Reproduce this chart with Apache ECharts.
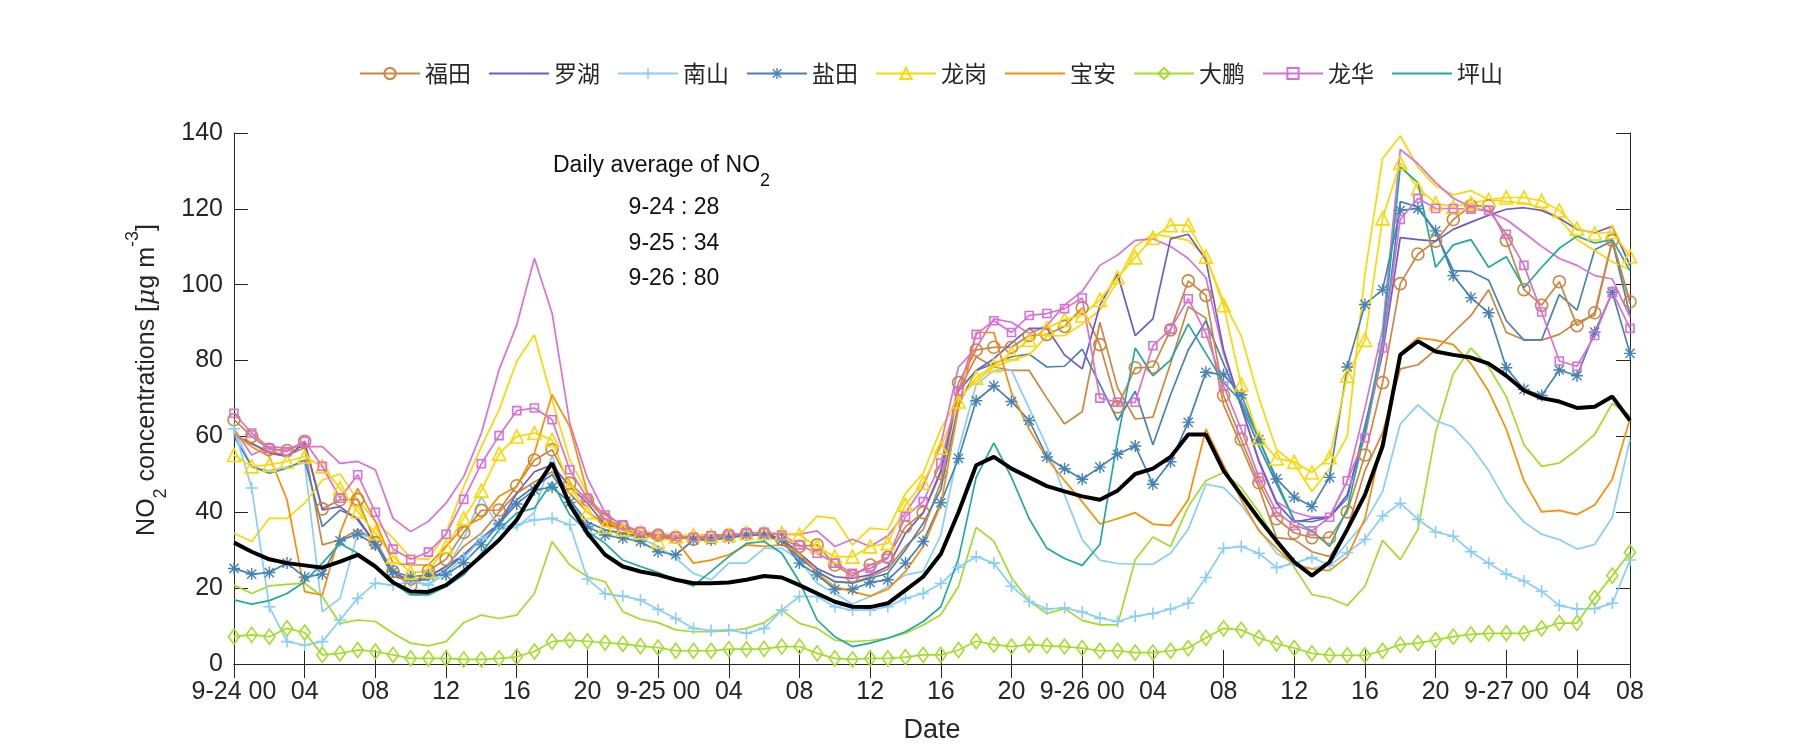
<!DOCTYPE html>
<html><head><meta charset="utf-8">
<script src="https://cdn.jsdelivr.net/npm/echarts@6/dist/echarts.min.js"></script>
<style>html,body{margin:0;padding:0;background:#fff}#c{width:1800px;height:750px}</style>
</head><body><div id="c"></div><script>
// ---- x axis: hourly points from 9-24 00 (index 0) to index 79 ----
const hours = Array.from({length: 80}, (_, i) => String(i));
const tickIndex = [0,4,8,12,16,20,24,28,32,36,40,44,48,52,56,60,64,68,72,76,79];
const tickLabels = ['9-24 00','04','08','12','16','20','9-25 00','04','08','12','16','20','9-26 00','04','08','12','16','20','9-27 00','04','08'];
const yTicks = [0,20,40,60,80,100,120,140];

// ---- annotation ----
const dailyDays = ['9-24','9-25','9-26'];
const dailyAvg = [28,34,80];

// ---- series values (µg m-3) ----
const FT1 = [64.4,60,56.6,56.3,58.7,40.9,43.3,43.4,32,24.4,20.6,24.6,27.6,34.7,40.5,40.6,47,53.8,56.5,47.7,43.3,
 38.2,36.1,34.5,34,33.4,32.9,33.4,34,34.3,34.3,32.9,31,31.4,26.1,23.2,26.1,28.1,36.2,39.9,50.3,
 74.2,82.8,83.5,83.5,86.6,86.9,89,93.9,84.2,67.8,78.1,78.3,88.1,101,97.2,70.8,59.2,47.8,38.3,
 34.6,33.3,33.3,40.1,55.1,74.2,100.3,108.1,111.5,117.2,120.8,120.8,111.7,98.7,94.6,100.8,89.2,92.6,111.7,95.5];
const FT2 = [60,58,56,55,57,31.4,32.7,35.4,32.7,24,20.8,23,25.7,31,34.5,40,45,48,50.7,45,40,
 37.1,35.4,34.5,33.8,33.4,33.4,33.4,34,34,34,32.3,28.3,24.4,21.7,21.5,23,25,31,35.4,48,
 72,81,78.3,77.4,77.4,70.1,63.3,66.5,90.1,72.8,64.6,65.1,79.2,94.2,91.2,68.3,57.4,46.5,33.3,
 32.8,29.6,28.3,35.5,51,61,77.8,78.9,82.8,87.4,91.9,98.7,87.4,85.5,85.4,86.9,90.1,91.9,111.5,95];
const LH = [60.4,58.2,55.6,54.7,58.2,40.6,41.5,38,31.8,24.4,21.7,23,25.7,28.8,32.7,37.1,45,50.7,52.5,46.8,42.4,
 36.7,35.4,34.5,33.6,33.4,33.6,33.8,34,34.5,34.5,32.9,29.2,25.2,23,22.6,23.5,25.7,34.5,39.8,51,
 72,77.4,80.5,84.6,88.5,88.5,81.5,77.8,94.6,102.8,86.6,91,112.1,113.3,106.5,82.8,67.8,53.3,42.4,
 37.4,38.3,38.7,44.6,61,81.9,112.4,111.9,111.5,114.6,116.5,118.3,119.9,120.3,119.6,117.5,114.6,113.7,115.4,105.1];
const NS1 = [62,46.4,15.1,5.9,5,5.9,11.6,17.3,21.3,20.8,21.7,20.8,23.9,28,33,36,36.7,38,38.4,36.7,22.4,
 18.5,17.9,16.9,14.4,12,9.4,8.8,9,8.1,9.4,14.2,17.8,17.8,15.1,14.2,14.2,15.1,17.3,18.6,21.2,
 25.5,28.3,26.6,20.5,16.5,14.5,14.8,13.7,12.1,11.2,12.6,13.3,14.5,16,22.8,30.5,31,29.2,25.4,
 26.6,28.1,26,29.4,32.8,39,42.4,38.1,34.8,33.7,29.6,26.6,23.7,21.9,19.2,15.4,14.5,14.6,16,27.4];
const NS2 = [62,52,51,52,53,13.8,17.3,34.5,33,24,22,21,25,33,44.2,35.5,36,40,55,42,33.5,
 35.4,34,33.2,31,27.9,23.9,22.2,26.6,26.6,30.5,30.5,27.4,21.3,18.6,15.8,17.8,20.4,23.5,24.4,34,
 56.5,73.7,77.4,77.4,67.4,57.4,44.6,32.8,27.4,26.5,26.3,26.3,29.2,35.5,47.4,46.5,41.9,35.5,29.2,
 26.5,25.1,26.5,31.9,37.4,45.5,63.3,68.3,64.2,62.4,57.4,51,42.8,37.4,34.2,32.8,30.3,31.5,38.7,59.2];
const YT1 = [25.2,23.7,24.1,26.6,22.9,23.7,32.5,34.3,31.4,24.4,23,23.5,23.5,26.7,31.4,36.9,42.2,45.9,46.6,42.6,36.2,
 34,33.2,32.3,29.6,28.8,32.7,32.7,33.2,34,34,32.7,26.6,23.5,19.7,19.7,21.5,22.2,26.6,32.3,42.5,
 54.2,69.4,73.3,69.2,64.2,54.6,51.5,48.7,51.9,55.3,57.5,47.4,53.3,63.7,76.9,76.3,71,59.2,48.8,
 44,41.5,49.2,78.3,94.8,98.7,119.6,120.1,114.2,102.4,96.6,92.6,78.1,72.4,70.8,77.5,76,87.5,98,81.9];
const YT2 = [60,52.1,50.3,51.6,53.8,36.2,40.6,38.4,31.8,23,22.2,22.2,24.8,28.8,33.2,37.1,43.3,46.8,49.9,43.3,37.4,
 35.4,34.5,33.6,33.4,33.2,33.2,33.4,33.6,34,34,32.3,27.9,24.4,21.7,21.3,22.6,23.9,30.1,37.1,46,
 68.3,77.4,79.2,81,81.7,78.3,78.5,83,73.7,64.2,71.9,57.8,71,82.8,90.5,79.2,68.3,57.4,47.4,
 37.8,37.5,38.7,43.7,62.8,82.8,121.9,120.5,113.9,103.7,103.5,101.2,90.5,85.4,85.5,97.4,93.3,109.2,111.5,91.9];
const LG1 = [55.1,52.1,52.5,53.4,54.7,52.1,46.3,40.2,34.5,28.3,24.1,24.4,31,38.4,45.7,55.4,60,60.9,59.1,46.8,40,
 36.2,35.5,34.7,32.3,33.6,34,33.8,34,34.5,34.5,34.5,34,31,28.3,28.3,31,31.8,42,47.8,57,
 69.2,75.5,78.7,81.9,85.5,88.5,90.8,91.9,96,101.9,107.2,112.4,115.7,115.7,107.4,94.6,73.7,59.6,54.2,
 53.3,50.5,54.5,76,85.5,117.5,132.1,125.4,121.5,120.5,121.5,122.4,123,123,122.1,119.6,114.8,113.5,113.9,107.5];
const LG2 = [34.5,32.3,38.4,38.4,42.4,48.5,50.1,43.3,37.6,33.2,27.9,27.6,34.5,46.8,57.3,67,79.8,86.8,69.7,53.8,45,
 37.6,35.8,34.9,34.5,34,34,34,34,34.5,34.5,34.5,34,39,38.4,31.4,35.8,35.4,45,50.3,62,
 70.1,74.6,78.3,80.1,81.5,86.5,86.6,89.6,93.3,101,110.1,113.3,112.6,111.7,107.4,95.5,86.5,70.1,56.5,
 52.8,45.5,51.5,60.1,102.8,133.3,139.2,131,126,123.7,124.8,122.4,121.9,121.5,120.3,117.4,111.9,109,106,104];
const BA = [60.9,57.3,54.7,43.3,19.1,18.2,34.5,46.3,37.6,26.6,26.1,26.1,31,36.2,38.4,44.2,46.8,55.6,71,62.6,45,
 37.6,35.4,34,33.6,32.7,26.6,27.4,28.8,31.4,31,31.4,29.2,23.9,20.4,19.1,17.9,19.7,24.4,31,42,
 67.4,87.4,87.4,71.5,61.9,54.2,48.3,42.8,36.9,38.3,39.9,36.9,36.5,43.3,61.9,52.4,43.3,35.1,30.5,
 26,25.1,24.6,28.3,38.3,59.2,81.9,86,85.4,84.2,79.2,71.9,61.9,48.3,40.1,40.5,39.4,41.9,48.7,64.6];
const DP1 = [7.2,7.7,7.2,9.4,8.3,2.4,2.8,3.7,3.3,2.4,1.5,1.5,1.5,1.2,1.2,1.5,1.9,3.3,5.9,6.3,6,
 5.6,5.3,4.7,4.3,3.5,3.5,3.5,3.9,3.9,4,4.6,4.6,2.8,1.5,1.2,1.5,1.5,1.8,2.4,2.4,
 3.7,6,5.1,4.6,5.1,4.8,4.6,4.2,3.5,3.5,3,3,3.5,4.2,6.9,9.4,9,6.9,5.4,
 4.2,2.8,2.3,2.3,2.3,3.5,5.1,5.5,6.3,7.2,7.8,8.1,8.1,8.1,9.4,10.8,10.8,17.4,23.3,29.4];
const DP2 = [20.8,18.6,20.6,21,21.3,17.8,10.7,11.6,11.2,8.1,5.5,4.8,5.9,10.9,12.9,12,12.9,18.6,32.3,26.1,23,
 21.7,13.8,11.8,10.9,9,8.5,8.5,8.7,9.4,10.9,14.2,10.7,9.4,6.3,5.9,6.2,6.8,8.1,10.3,13,
 20.5,36,32.4,22.8,16.6,13.3,14.6,11.5,10.3,10.3,27.5,33.5,31,41.5,48.3,50.5,46.5,40.1,32.4,
 25.5,18.3,17.4,15.4,20.5,32.6,27.5,35.5,61,76.5,83.3,78.3,70.5,57.8,52.1,53,56.5,60.5,68.7,65.5];
const LHua1 = [66.1,60.9,56.9,56,58.7,52.1,43.7,49.9,40,30.3,27.6,29.5,34.2,43.4,52.8,60.2,66.8,67.5,64.4,51.2,43.7,
 39.3,36.7,34.9,34,33.6,33.4,33.8,34,34.5,34.7,34,31.4,29.2,26.6,23.9,25.2,27.9,38.9,42.8,53,
 72,86.9,90.5,87.4,91.9,92.4,93.7,96.5,70.1,69,69,83.9,88.3,96.3,87.2,73.3,61.9,49.2,40.1,
 36.5,35.1,38.7,48.3,59.6,83.3,117.2,122.8,120.1,120.1,119.9,119.6,113.3,105.1,92.8,79.9,78.5,86.6,98.1,88.5];
const LHua2 = [62,55.1,57.3,56.9,57.3,57.3,52.9,53.4,51.2,38.4,34.9,37.6,42.4,49.4,60.9,77.6,89.4,107,92.5,63.5,49,
 39.8,36.2,34.9,34,33.8,33.8,34,34.2,34.2,34.2,34.2,34.2,35.1,31,32.9,31,33.8,39.8,46.8,58,
 78.3,83.3,91,90.1,87.1,89.2,94.6,98.3,105.1,107.8,111.7,112.1,110.1,106.9,101.9,81.9,67.8,53.7,42.8,
 40,38.7,38.7,48.3,67.4,88.3,135.7,131.9,126.9,122.8,120.5,119.2,117.2,113.7,110.1,106.9,105.1,102.4,101.5,91.5];
const PS = [16.9,15.8,16.7,18.6,21.7,26.6,31.8,29.2,25.7,21.3,18.2,18.2,20.4,23.5,29.2,35.4,39.8,41.1,48,39.3,35,
 31.8,27.4,25.7,24.1,22.2,20.6,24.4,28.3,31.8,32.3,29.2,21.7,11.6,7.2,4.6,5.5,6.8,8.5,11.2,15.1,
 27.8,49.2,58.3,49.2,38.3,30.5,27.8,26,31.5,59.2,83.3,76,80.1,89.6,81.9,74.2,69.2,59.2,48.3,
 37.8,35.1,31,41,61,85.5,131,126.9,104.6,110.5,111.9,104.6,107.4,99.2,104.6,109.6,112.8,111,111.9,103.7];
const AVG = [32,29.6,27.6,26.6,26,25.4,27,28.8,25.7,21.5,19.1,19,20.8,24.4,28.5,32.7,38,45.9,53,42,34.5,
 28.8,25.7,24.4,23.5,22.2,21.3,21.3,21.5,22.2,23.2,22.8,20.8,18.6,16.4,15.1,15,16,19.5,23,29,
 40,52.4,54.6,51.5,49.2,46.9,45.5,44.2,43.3,45.7,50.1,51.5,54.6,60.5,60.5,51,44.6,38.3,32.4,
 26.9,23.3,26.9,35.5,44.6,57.4,81.5,85.1,82.4,81.5,80.8,79.2,76,72.1,70.1,69.2,67.5,67.8,70.5,64.2];

const districts = ['福田','罗湖','南山','盐田','龙岗','宝安','大鹏','龙华','坪山'];
const plainDistricts = ['罗湖','宝安','坪山'];

// ---- styles ----
const C = {ft:'#CD853F', lh:'#6A5ACD', ns:'#87CEFA', yt:'#4682B4', lg:'#FFD700', ba:'#FF8C00', dp:'#A2DE26', lhua:'#DA70D6', ps:'#1FAA9F'};
const PLUS = 'path://M4.35 0H5.65V10H4.35Z M0 4.35H10V5.65H0Z';
const STAR = 'path://M4.4 0H5.6V10H4.4Z M0 4.4H10V5.6H0Z M0.78 1.62L1.62 0.78L9.22 8.38L8.38 9.22Z M8.38 0.78L9.22 1.62L1.62 9.22L0.78 8.38Z';

function line(name, data, color, marker, size, filled) {
  const s = {
    name: name, type: 'line', data: data, xAxisIndex: 0, yAxisIndex: 0,
    lineStyle: {color: color, width: 1.7},
    itemStyle: filled ? {color: color, borderWidth: 0} : {color: 'rgba(0,0,0,0)', borderColor: color, borderWidth: 1.6},
    symbol: marker || 'none', symbolSize: size || 0, showSymbol: !!marker, showAllSymbol: true,
    emphasis: {disabled: true}, animation: false, z: 2
  };
  if (!marker) s.itemStyle = {color: color};
  return s;
}

const series = [
  line('福田-2', FT2, C.ft),
  line('南山-2', NS2, C.ns),
  line('盐田-2', YT2, C.yt),
  line('龙岗-2', LG2, C.lg),
  line('大鹏-2', DP2, C.dp),
  line('龙华-2', LHua2, C.lhua),
  line('福田', FT1, C.ft, 'circle', 12),
  line('罗湖', LH, C.lh),
  line('南山', NS1, C.ns, PLUS, 12, true),
  line('盐田', YT1, C.yt, STAR, 12, true),
  line('龙岗', LG1, C.lg, 'triangle', 13),
  line('宝安', BA, C.ba),
  line('大鹏', DP1, C.dp, 'diamond', [11, 15]),
  line('龙华', LHua1, C.lhua, 'rect', 8),
  line('坪山', PS, C.ps),
  {name: 'avg', type: 'line', data: AVG, symbol: 'none', lineStyle: {color: '#000', width: 4}, itemStyle: {color: '#000'}, emphasis: {disabled: true}, animation: false, z: 3}
];

const FONT = 'Liberation Sans';
const AX = '#262626';
const tickShow = (i) => tickIndex.indexOf(i) >= 0;

const option = {
  backgroundColor: '#fff',
  animation: false,
  grid: {left: 234, right: 170, top: 133, bottom: 86, containLabel: false},
  legend: {
    data: districts.map(d => plainDistricts.indexOf(d) >= 0 ? {name: d, itemStyle: {opacity: 0}} : {name: d}),
    left: 354, top: 57, itemWidth: 60, itemHeight: 14, itemGap: 17,
    textStyle: {fontSize: 23, fontFamily: 'Noto Sans CJK SC', color: AX}, selectedMode: false
  },
  xAxis: [
    {type: 'category', data: hours, boundaryGap: false, position: 'bottom',
     axisLine: {lineStyle: {color: AX, width: 1}},
     axisTick: {inside: true, length: 14, interval: (i) => tickShow(i), lineStyle: {color: AX}},
     axisLabel: {interval: (i) => tickShow(i), formatter: (v, i) => tickLabels[tickIndex.indexOf(i)] || '',
       fontSize: 25, fontFamily: FONT, color: AX, margin: 16},
     splitLine: {show: false},
     name: 'Date', nameLocation: 'middle', nameGap: 53, nameTextStyle: {fontSize: 27, fontFamily: FONT, color: AX}},
    {type: 'category', data: hours, boundaryGap: false, position: 'top',
     axisLine: {lineStyle: {color: AX, width: 1}},
     axisTick: {inside: true, length: 14, interval: (i) => tickShow(i), lineStyle: {color: AX}},
     axisLabel: {show: false}, splitLine: {show: false}}
  ],
  yAxis: [
    {type: 'value', min: 0, max: 140, interval: 20, position: 'left',
     axisLine: {show: true, lineStyle: {color: AX, width: 1}},
     axisTick: {show: true, inside: true, length: 14, lineStyle: {color: AX}},
     axisLabel: {fontSize: 25, fontFamily: FONT, color: AX, margin: 11},
     splitLine: {show: false}},
    {type: 'value', min: 0, max: 140, interval: 20, position: 'right',
     axisLine: {show: true, lineStyle: {color: AX, width: 1}},
     axisTick: {show: true, inside: true, length: 14, lineStyle: {color: AX}},
     axisLabel: {show: false}, splitLine: {show: false}}
  ],
  graphic: [
    {type: 'text', x: 147, y: 380, rotation: Math.PI / 2,
     style: {text: '{a|NO}{s|2}{a| concentrations [}{i|μ}{a|g m}{p|-3}{a|]}', align: 'center', verticalAlign: 'middle', rich: {
       a: {fontSize: 25, fontFamily: FONT, fill: AX, lineHeight: 46, verticalAlign: 'middle'},
       i: {fontSize: 25, fontFamily: 'DejaVu Serif', fontStyle: 'italic', fill: AX, lineHeight: 46, verticalAlign: 'middle'},
       s: {fontSize: 18, fontFamily: FONT, fill: AX, lineHeight: 16, verticalAlign: 'bottom'},
       p: {fontSize: 18, fontFamily: FONT, fill: AX, lineHeight: 16, verticalAlign: 'top'}
     }}},
    {type: 'text', x: 553, y: 142, style: {text: '{a|Daily average of NO}{s|2}', rich: {
      a: {fontSize: 23, fontFamily: FONT, fill: '#111', lineHeight: 48, verticalAlign: 'middle'},
      s: {fontSize: 18, fontFamily: FONT, fill: '#111', lineHeight: 17, verticalAlign: 'bottom'}}}},
    ...dailyDays.map((d, k) => ({type: 'text', x: 674, y: 208 + k * 35.5,
      style: {text: d + ' : ' + dailyAvg[k], fontSize: 23, fontFamily: FONT, fill: '#111', align: 'center', verticalAlign: 'middle'}}))
  ],
  series: series
};

const chart = echarts.init(document.getElementById('c'), null, {renderer: 'canvas'});
chart.setOption(option);
</script></body></html>
